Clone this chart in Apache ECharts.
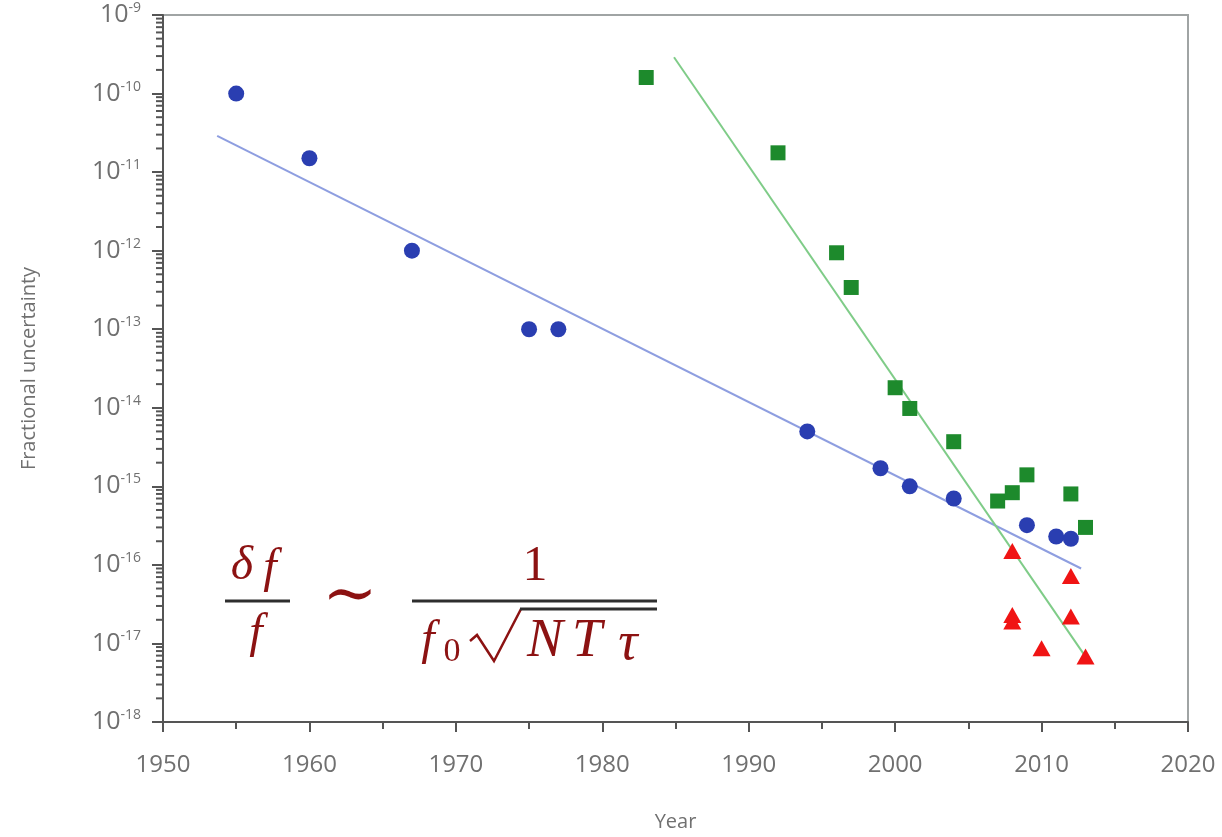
<!DOCTYPE html>
<html>
<head>
<meta charset="utf-8">
<script src="https://cdn.jsdelivr.net/npm/echarts@6/dist/echarts.min.js"></script>
<style>
  html, body { margin: 0; padding: 0; background: #fff; }
  #main { width: 1222px; height: 837px; }
</style>
</head>
<body>
<div id="main"></div>
<script>
// data
var yearTicks = [1950, 1960, 1970, 1980, 1990, 2000, 2010, 2020];
var decadeTicks = [-18, -17, -16, -15, -14, -13, -12, -11, -10, -9];

// blue circles
var blueData = [
  [1955, 1.0e-10], [1960, 1.5e-11], [1967, 1.0e-12], [1975, 1.0e-13], [1977, 1.0e-13],
  [1994, 5.0e-15], [1999, 1.7e-15], [2001, 1.0e-15], [2004, 7.0e-16],
  [2009, 3.2e-16], [2011, 2.3e-16], [2012, 2.15e-16]
];
// green squares
var greenData = [
  [1983, 1.6e-10], [1992, 1.76e-11], [1996, 9.4e-13], [1997, 3.4e-13],
  [2000, 1.8e-14], [2001, 9.8e-15], [2004, 3.7e-15], [2007, 6.5e-16],
  [2008, 8.3e-16], [2009, 1.4e-15], [2012, 8.0e-16], [2013, 3.0e-16]
];
// red triangles
var redData = [
  [2008, 1.5e-16], [2008, 2.3e-17], [2008, 1.9e-17], [2010, 8.7e-18],
  [2012, 7.2e-17], [2012, 2.2e-17], [2013, 6.8e-18]
];
// trend lines
var blueFit = [[1953.7, 2.9e-11], [2012.7, 9.0e-17]];
var greenFit = [[1984.9, 2.9e-10], [2013, 6.8e-18]];

// minor ticks on the log axis (2..9 x each decade)
var minorTicks = [];
for (var e = -18; e < -9; e++) {
  for (var m = 2; m <= 9; m++) minorTicks.push([1950, m * Math.pow(10, e)]);
}

var chartDom = document.getElementById('main');
var myChart = echarts.init(chartDom);

var labelFont = 'Open Sans';
var axisDark = '#555';
var textGray = '#707070';
var formulaRed = '#8c1212';
var barGray = '#2e2e2e';
var serif = 'Liberation Serif';

function ftext(txt, x, y, size, italic, align) {
  return {
    type: 'text', x: x, y: y,
    style: {
      text: txt,
      font: (italic ? 'italic ' : '') + size + 'px "' + serif + '"',
      fill: formulaRed, align: align || 'center', verticalAlign: 'middle'
    }
  };
}

var option = {
  animation: false,
  backgroundColor: '#fff',
  grid: {
    left: 163, right: 34, top: 15, bottom: 114,
    show: true, borderColor: '#a0a4a4', borderWidth: 2, backgroundColor: 'transparent'
  },
  xAxis: {
    type: 'value',
    min: 1950, max: 2020, interval: 10,
    name: 'Year',
    nameLocation: 'middle',
    nameGap: 90,
    nameTextStyle: { color: textGray, fontSize: 20, fontFamily: labelFont },
    axisLine: { show: true, lineStyle: { color: axisDark, width: 2 } },
    axisTick: { show: true, length: 10, lineStyle: { color: axisDark, width: 2 } },
    minorTick: { show: true, splitNumber: 2, length: 7, lineStyle: { color: axisDark, width: 2 } },
    splitLine: { show: false },
    axisLabel: {
      margin: 31, color: textGray, fontSize: 24, fontFamily: labelFont,
      customValues: yearTicks,
      formatter: function (v) { return String(v); }
    }
  },
  yAxis: {
    type: 'log',
    logBase: 10,
    min: 1e-18, max: 1e-9,
    name: 'Fractional uncertainty',
    nameLocation: 'middle',
    nameGap: 124,
    nameRotate: 90,
    nameTextStyle: { color: textGray, fontSize: 20, fontFamily: labelFont },
    axisLine: { show: true, lineStyle: { color: axisDark, width: 2 } },
    axisTick: { show: true, length: 11, lineStyle: { color: axisDark, width: 2 } },
    splitLine: { show: false },
    axisLabel: {
      margin: 22,
      customValues: decadeTicks.map(function (d) { return Math.pow(10, d); }),
      formatter: function (v) {
        var ex = Math.round(Math.log10(v));
        return '{b|10}{s|' + ex + '}';
      },
      rich: {
        b: { fontSize: 25, color: textGray, fontFamily: labelFont, lineHeight: 28 },
        s: { fontSize: 14, color: textGray, fontFamily: labelFont, lineHeight: 14, verticalAlign: 'top' }
      }
    }
  },
  series: [
    {
      // log-spaced minor ticks along the left axis
      type: 'custom', data: minorTicks, silent: true, clip: false, z: 5,
      renderItem: function (params, api) {
        var p = api.coord([api.value(0), api.value(1)]);
        return {
          type: 'line',
          shape: { x1: p[0] - 7, y1: p[1], x2: p[0], y2: p[1] },
          style: { stroke: axisDark, lineWidth: 2 }
        };
      }
    },
    {
      type: 'line', data: blueFit, symbol: 'none', silent: true,
      lineStyle: { color: '#8e9ee0', width: 2 }, z: 1
    },
    {
      type: 'line', data: greenFit, symbol: 'none', silent: true,
      lineStyle: { color: '#7fcc88', width: 2 }, z: 1
    },
    {
      type: 'scatter', data: blueData, symbol: 'circle', symbolSize: 16,
      itemStyle: { color: '#2a3eb1', opacity: 1 }, z: 3
    },
    {
      type: 'scatter', data: greenData, symbol: 'rect', symbolSize: 15,
      itemStyle: { color: '#1d8a2c', opacity: 1 }, z: 3
    },
    {
      type: 'scatter', data: redData, symbol: 'triangle', symbolSize: [18, 16],
      itemStyle: { color: '#f01414', opacity: 1 }, z: 3
    }
  ],
  graphic: [
    // delta f / f
    ftext('δ', 242, 566, 48, true),
    ftext('f', 270, 569, 48, true),
    { type: 'line', shape: { x1: 225, y1: 601, x2: 290, y2: 601 }, style: { stroke: barGray, lineWidth: 3 } },
    ftext('f', 256, 634, 48, true),
    // ~
    { type: 'text', x: 350, y: 598, style: { text: '∼', font: '66px "DejaVu Serif"', fill: formulaRed, align: 'center', verticalAlign: 'middle' } },
    // 1 / (f0 sqrt(N T tau))
    ftext('1', 535, 567, 50, false),
    { type: 'line', shape: { x1: 412, y1: 601, x2: 657, y2: 601 }, style: { stroke: barGray, lineWidth: 3 } },
    ftext('f', 428, 641, 48, true),
    ftext('0', 452, 652, 34, false),
    { type: 'polyline', shape: { points: [[470, 641], [477, 635], [494, 661], [521, 609]] }, style: { stroke: formulaRed, lineWidth: 2.5, fill: null, lineJoin: 'miter' } },
    { type: 'line', shape: { x1: 520, y1: 609, x2: 657, y2: 609 }, style: { stroke: barGray, lineWidth: 3 } },
    ftext('N', 545, 642, 54, true),
    ftext('T', 587, 642, 54, true),
    ftext('τ', 628, 645, 54, true)
  ]
};

option && myChart.setOption(option);
</script>
</body>
</html>
